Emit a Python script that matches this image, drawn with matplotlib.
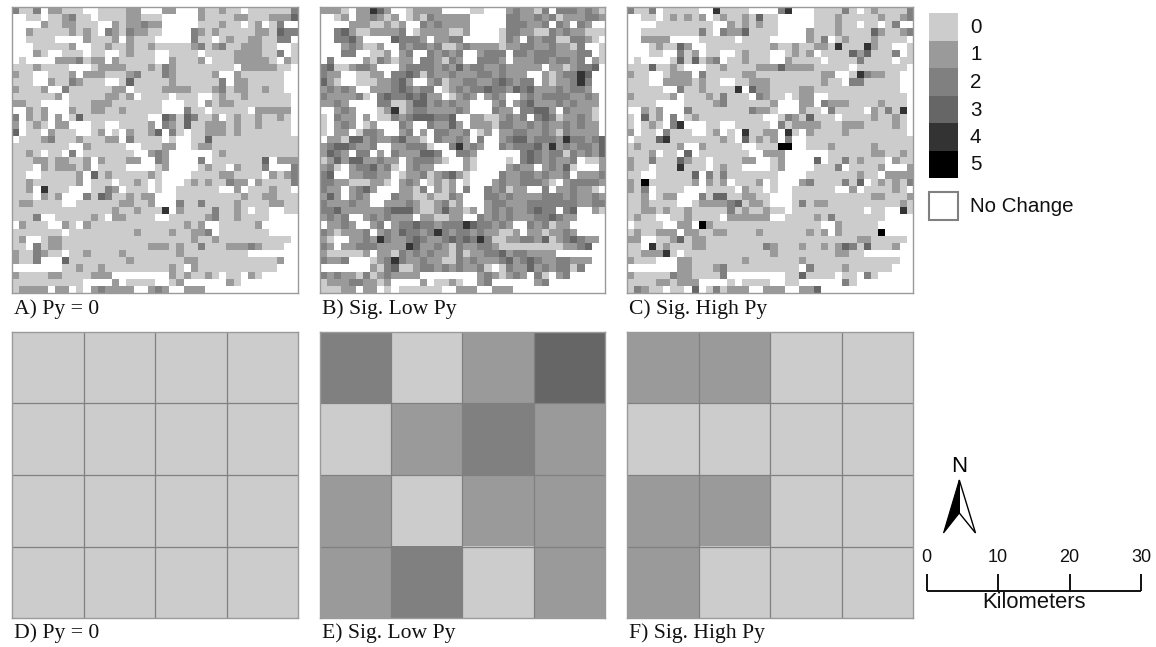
import numpy as np
import matplotlib
matplotlib.use('Agg')
import matplotlib.pyplot as plt
from matplotlib.colors import ListedColormap
from matplotlib.patches import Polygon, Rectangle

# change classes, light to dark
classes = ['0', '1', '2', '3', '4', '5']
class_colors = ['#cccccc', '#9a9a9a', '#808080', '#666666', '#333333', '#000000']

# fine grid, 40 x 40 ('.' = no change)
fine_a = [
    "2002.11000 ..00001 1.. .11...1001 00.0000002",
    "..00.00120 0.00001100 0.....1000 0110001113",
    "....100110 00..101121 1.....0001 00.01.02..",
    "..10000010 10.2102110 0....21010 0000110322",
    "..0000.... 10001.1000 .....200.0 100110022.",
    "...000001. .001001001 0000012012 0011100..0",
    "...10..000 .00..01000 ..0000.000 01111002.0",
    ".0....1112 011.100000 ..10001.00 0111110.10",
    "00010000.. .011110001 0210000000 0.1111100.",
    "100..0001. 1110001200 021000001. .1000000..",
    "000..10021 000..03000 0010000002 .1100000..",
    "10001..200 000011.000 0111100012 01100100..",
    "0000001.00 0001101.00 00.000..01 001000000.",
    "1100....00 0111000000 0...00.101 100000000.",
    "..101...10 0110010000 0...200.00 000.11111.",
    "2.101.1.03 000000000. .32032001. 010010010.",
    "1.010.11.. .00..00001 .210300111 010010000.",
    "3.00.1000. .01.0.1001 3.20.00111 010000000.",
    ".000120001 00011.2000 0.0..00300 0000000000",
    "00000000.. 100000..00 011..01100 0000000000",
    "0010.00.2. 0000000..1 21......01 0000000000",
    "0001101100 1.100011.. 21....2.00 000003.111",
    "000.101110 1.0000.... 01....0100 .10002...2",
    "00..000001 .301000001 0....00001 10000.1012",
    "0010000001 .000.0010. 0...010100 211.100002",
    "001.4000.. .0021.000. 0..000000. .1.000100.",
    "000.101... 2032001011 ...0000000 0010011000",
    "0110000..0 0000011001 ...2002000 0100001100",
    "0000000000 0000100100 04.1000020 010.00..00",
    "0002..0000 010.110000 ..00000120 010000....",
    ".1000..10. 1000000000 0000101..0 00001.....",
    "0000000.00 0000000100 00100112.0 000000....",
    "01..011000 0000000000 0000010010 000000000.",
    "00.2011000 0000000001 1101002000 11121000..",
    "1002100.00 1000010000 0001000000 000.......",
    "1002...300 0000001000 0000110000 00000001..",
    ".......001 0010000000 0010.10000 0000000...",
    "1000011000 0111...... ..10100 10. 00.10.....",
    "0000000000 ....1.0000 ..01...... 10........",
    "01111.11.0 .121111..1 21..111... ..........",
]
fine_b = [
    "1110.11431 ..01111... .00...1211 02.2221210",
    "..01.11210 1.01021111 1.....2211 2120111221",
    "....111001 01..212111 1.....2221 12.21.21..",
    "..23100111 12.0111100 1....02211 0021211000",
    "..2231.... 32221.1122 .....021.2 122002210.",
    "...121001. .212212001 2111101122 1121102..0",
    "...22..001 .12..21212 ..1222.221 22211122.0",
    ".2....1021 011.221021 ..2221.111 2212212.10",
    "23001221.. .122221213 1221121111 1.1101223.",
    "211..0011. 2232021121 112212111. .1012243..",
    "310..00011 231..12011 2211232122 .1011242..",
    "12121..111 232122.012 1223221323 11121221..",
    "2111120.23 2232311.01 21.121..12 122221121.",
    "1121....22 0013312121 1...12.123 111212111.",
    "..121...01 4012211112 1...211.22 331.21110.",
    "0.211.1.00 212333223. .11001212. 232011210.",
    "0.121.01.. .21..21131 .111022112 121121211.",
    "0.11.0221. .12.1.2211 2.01.11221 121021111.",
    ".110331211 23110.2112 1.2..12331 2221422123",
    "12332112.. 112220..24 121..21222 3141212213",
    "1321.22.1. 2111332..2 21......23 2122021213",
    "0131331121 1.122210.. 10....0.23 212112.001",
    "120.122312 0.1211.... 10....1211 .12130...1",
    "23..112211 .011201231 0....21122 12112.1112",
    "2211000110 .121.0101. 0...121122 210.122221",
    "211.1231.. .1102.101. 2..212011. .2.112110.",
    "131.121... 2110010021 ...2212111 1222121121",
    "2111211..1 1121001201 ...1221112 2222221122",
    "2231111112 3331001311 01.1212112 322.23..10",
    "1212..1212 111.110011 ..21212111 223211....",
    ".1121..12. 1223221222 4322121..2 12011.....",
    "2101112.12 1322124212 21211001.1 101121....",
    "10..112142 1123211232 3242001122 130123211.",
    "21.1122211 1143112102 1122100000 00001123..",
    "1000001.11 0212121102 0112231221 111.......",
    "2112...012 4211211002 1211123123 21122111..",
    ".......102 3001221212 1120.02113 1212202...",
    "2121102012 1111...... ..1210121. 20.12.....",
    "0111221101 ....1.0010 ..12...... 12........",
    "00011.11.0 .000000..1 11..111... ..........",
]
fine_c = [
    "2002.00000 ..40000... .24...0000 20.0100002",
    "..00.01010 1.01001030 0.....0001 0000010012",
    "....000000 00..101010 0.....0001 00.00.02..",
    "..00000000 20.2113000 0....10001 0000310012",
    "..1111.... 00000.0000 .....102.0 100010000.",
    "...010031. .000000000 1001001104 0004100..0",
    "...00..201 .00..01000 ..0101.000 03130002.0",
    ".0....0303 012.001000 ..10000.00 0020000.00",
    "00030010.. .001000011 1311110000 0.0000000.",
    "100..0111. 2000001100 000000011. .0421100..",
    "000..11110 100..00111 0000000100 .2200000..",
    "00000..200 100004.311 0000110000 00000000..",
    "1000001.00 0102000.21 00.011..00 000000000.",
    "0000....00 0012000000 1...11.211 100001000.",
    "..101...20 0000000211 0...100.20 000.10204.",
    "0.301.2.01 000000000. .02103000. 000010010.",
    "0.010.24.. .00..00000 .201111000 111000010.",
    "1.00.2000. .01.0.4001 1.40.10000 100000000.",
    ".000340000 00010.3010 1.2..00000 0000000000",
    "01000001.. 100000..00 055..00010 0000100000",
    "0001.00.3. 0000000..1 11......00 0000110010",
    "1002000310 0.000011.. 01....3.00 201000.100",
    "100.000400 0.0100.... 01....0002 .00001...1",
    "00..000003 .202000000 0....00000 00100.1111",
    "1050000001 .101.0001. 0...120000 203.010102",
    "102.0000.. .0000.100. 0..000000. .1.000010.",
    "001.011... 2033001100 ...0000000 0000110001",
    "0010000..0 1111230110 ...0201100 0000000010",
    "0011010010 0000201001 00.0000000 000.00..40",
    "0100..0010 000.111111 ..00001020 000000....",
    ".0000..11. 5100000000 0000000..1 00000.....",
    "0100111.11 0011000010 00000101.1 000005....",
    "11..001301 1000000000 0000000000 001100000.",
    "00.4010001 1000000002 1000100101 32030001..",
    "0011140.00 0000000000 1000000001 100.......",
    "1000...110 0000001000 0000100000 00000000..",
    ".......110 0012000000 0000.20000 1000000...",
    "1000002110 0002...... ..0030000. 00.20.....",
    "0000110111 ....0.0000 ..00...... 20........",
    "02100.00.3 .020111..1 11..113... ..........",
]

# coarse grid, 4 x 4
coarse_d = [[0, 0, 0, 0], [0, 0, 0, 0], [0, 0, 0, 0], [0, 0, 0, 0]]
coarse_e = [[2, 0, 1, 3], [0, 1, 2, 1], [1, 0, 1, 1], [1, 2, 0, 1]]
coarse_f = [[1, 1, 0, 0], [0, 0, 0, 0], [1, 1, 0, 0], [1, 0, 0, 0]]

labels_top = ['A) Py = 0', 'B) Sig. Low Py', 'C) Sig. High Py']
labels_bottom = ['D) Py = 0', 'E) Sig. Low Py', 'F) Sig. High Py']
scale_km = [0, 10, 20, 30]

W, H = 1156, 647
SERIF = 'Liberation Serif'
SANS = 'Liberation Sans'

cmap = ListedColormap(class_colors)
cmap.set_bad('white')


def parse_rows(rows):
    # strip the group spaces, pad in case a row came out short
    out = []
    for r in rows:
        r = r.replace(' ', '').ljust(40, '.')[:40]
        out.append([np.nan if ch == '.' else int(ch) for ch in r])
    return np.array(out)


def panel(x0, y0, size, data, grid=False):
    ax = fig.add_axes([x0 / W, 1 - (y0 + size) / H, size / W, size / H])
    ax.imshow(data, cmap=cmap, vmin=-0.5, vmax=5.5, interpolation='nearest', aspect='auto')
    ax.set_xticks([])
    ax.set_yticks([])
    for s in ax.spines.values():
        s.set_color('#9a9a9a')
        s.set_linewidth(1.0)
    if grid:
        for k in [0.5, 1.5, 2.5]:
            ax.axhline(k, color='#808080', lw=0.9)
            ax.axvline(k, color='#808080', lw=0.9)
    return ax


fig = plt.figure(figsize=(W / 100, H / 100), dpi=100)

# overlay in pixel coordinates for legend, labels, scale bar
ov = fig.add_axes([0, 0, 1, 1])
ov.set_xlim(0, W)
ov.set_ylim(H, 0)
ov.axis('off')

xs = [12, 319.5, 627]
size = 286
for x0, rows, lab in zip(xs, [fine_a, fine_b, fine_c], labels_top):
    panel(x0, 7, size, parse_rows(rows))
    ov.text(x0 + 2, 314, lab, family=SERIF, fontsize=15.6, va='baseline', color='#111111')
for x0, vals, lab in zip(xs, [coarse_d, coarse_e, coarse_f], labels_bottom):
    panel(x0, 332, size, np.array(vals, dtype=float), grid=True)
    ov.text(x0 + 2, 638, lab, family=SERIF, fontsize=15.6, va='baseline', color='#111111')

# legend
for i, (name, col) in enumerate(zip(classes, class_colors)):
    y = 13 + i * 27.5
    ov.add_patch(Rectangle((929, y), 29, 27.5, fc=col, ec='none'))
    ov.text(970, y + 14.5, name, family=SANS, fontsize=14.8, va='center', color='#111111')
ov.add_patch(Rectangle((929, 191.5), 29, 28, fc='white', ec='#808080', lw=1.5))
ov.text(970, 206, 'No Change', family=SANS, fontsize=14.8, va='center', color='#111111')

# north arrow
ov.text(959, 467, 'N', family=SANS, fontsize=16, ha='center', va='center', color='black')
ov.add_patch(Polygon([(959.3, 480), (943.5, 533), (959.3, 513)], fc='black', ec='black', lw=0.8))
ov.add_patch(Polygon([(959.3, 480), (975.5, 533), (959.3, 513)], fc='white', ec='black', lw=1.0))

# scale bar
bar_x0, bar_x1 = 926.7, 1141
bar_pos = np.interp(scale_km, [scale_km[0], scale_km[-1]], [bar_x0, bar_x1])
ov.plot([bar_x0, bar_x1], [590.7, 590.7], color='#111111', lw=1.4, solid_capstyle='butt')
for x, km in zip(bar_pos, scale_km):
    ov.plot([x, x], [574, 591.4], color='#111111', lw=1.4, solid_capstyle='butt')
    ov.text(x, 558, str(km), family=SANS, fontsize=13, ha='center', va='center', color='#111111')
ov.text(1034, 603, 'Kilometers', family=SANS, fontsize=15.8, ha='center', va='center', color='#111111')

fig.savefig('out.png', dpi=100)
